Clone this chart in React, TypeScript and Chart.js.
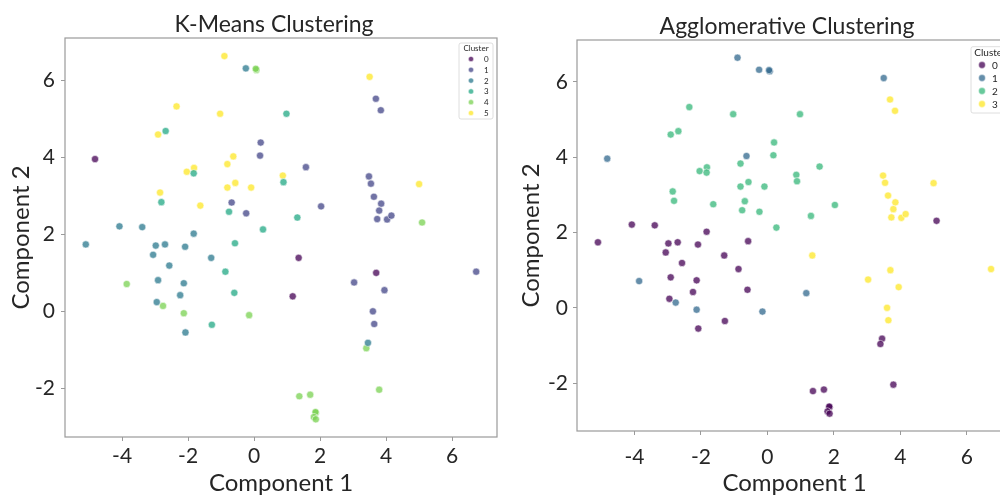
import React, { useEffect, useRef } from "react";
import { Chart, registerables } from "chart.js";
Chart.register(...registerables);

// ---- data (same 2-D embedding, two sets of cluster labels) ----
const compX = [
  -0.9, -0.25, 0.07, 0.05, 3.5, 3.69, 3.84, -2.35, -1.03, 0.98,
  -2.91, -2.68, 0.2, 0.18, -4.82, -0.63, -0.81, 1.57, -2.04, -1.82,
  -1.83, 3.48, 0.87, 0.89, 3.54, -0.57, -0.81, -0.09, 5.0, -2.85,
  3.63, -2.81, -0.68, -1.63, 2.03, 3.85, 3.79, -0.76, -0.24, 3.73,
  4.03, 4.16, 5.09, 1.31, 0.27, -4.08, -3.39, -1.83, -0.58, -5.1,
  -2.98, -2.7, -2.09, -3.06, -1.3, 1.35, -2.57, -0.87, 3.7, 6.73,
  -3.86, -2.91, -2.13, 3.03, 3.95, -2.24, -0.6, 1.17, -2.95, -2.76,
  -2.13, 3.6, -0.15, 3.64, -1.28, -2.08, 3.45, 3.4, 3.79, 1.37,
  1.7, 1.87, 1.86, 1.81, 1.87,
];
const compY = [
  6.64, 6.32, 6.28, 6.31, 6.1, 5.53, 5.23, 5.33, 5.14, 5.14,
  4.6, 4.69, 4.39, 4.05, 3.96, 4.03, 3.83, 3.75, 3.63, 3.73,
  3.59, 3.51, 3.53, 3.36, 3.32, 3.34, 3.22, 3.22, 3.31, 3.09,
  2.98, 2.84, 2.83, 2.75, 2.73, 2.8, 2.62, 2.59, 2.55, 2.4,
  2.39, 2.49, 2.31, 2.44, 2.13, 2.21, 2.19, 2.02, 1.77, 1.74,
  1.71, 1.74, 1.68, 1.47, 1.39, 1.39, 1.19, 1.03, 1.0, 1.03,
  0.71, 0.81, 0.73, 0.75, 0.55, 0.42, 0.48, 0.39, 0.24, 0.14,
  -0.05, 0.0, -0.1, -0.33, -0.35, -0.55, -0.82, -0.96, -2.04, -2.21,
  -2.17, -2.64, -2.62, -2.75, -2.81,
];
const kmeansLabels = [
  5, 2, 4, 4, 5, 1, 1, 5, 5, 3,
  5, 3, 1, 1, 0, 5, 5, 1, 5, 5,
  3, 1, 5, 3, 1, 5, 5, 5, 5, 5,
  1, 3, 1, 5, 1, 1, 1, 3, 1, 1,
  1, 1, 4, 3, 3, 2, 2, 2, 3, 2,
  2, 2, 2, 2, 2, 0, 2, 3, 0, 1,
  4, 2, 2, 1, 1, 2, 3, 0, 2, 4,
  4, 1, 4, 1, 3, 2, 2, 4, 4, 4,
  4, 4, 4, 4, 4,
];
const aggloLabels = [
  1, 1, 1, 1, 1, 3, 3, 2, 2, 2,
  2, 2, 2, 2, 1, 1, 2, 2, 2, 2,
  2, 3, 2, 2, 3, 2, 2, 2, 3, 2,
  3, 2, 2, 2, 2, 3, 3, 2, 2, 3,
  3, 3, 0, 2, 2, 0, 0, 0, 0, 0,
  0, 0, 0, 0, 0, 3, 0, 0, 3, 3,
  1, 0, 0, 3, 3, 0, 0, 1, 0, 1,
  1, 3, 1, 3, 0, 0, 0, 0, 0, 0,
  0, 0, 0, 0, 0,
];
const kmeansClusters = ["0", "1", "2", "3", "4", "5"];
const aggloClusters = ["0", "1", "2", "3"];
const kmeansColors = ["#440154", "#414487", "#2a788e", "#22a884", "#7ad151", "#fde725"];
const aggloColors = ["#440154", "#31688e", "#35b779", "#fde725"];
const xTickValues = [-4, -2, 0, 2, 4, 6];
const yTickValues = [-2, 0, 2, 4, 6];
const xLimits = [-5.73, 7.36];
const yLimits = [-3.27, 7.11];

const TEXT = "#262626";
const SPINE = "#9a9a9a";
const FONT = "Lato, 'Noto Sans', sans-serif";
const ALPHA = 0.75;

function hexA(hex: string, a: number) {
  const n = parseInt(hex.slice(1), 16);
  return `rgba(${(n >> 16) & 255},${(n >> 8) & 255},${n & 255},${a})`;
}

const frameBox = {
  id: "frameBox",
  afterDatasetsDraw(chart: any) {
    const { ctx, chartArea: a } = chart;
    ctx.save();
    ctx.strokeStyle = SPINE;
    ctx.lineWidth = 1.2;
    ctx.strokeRect(a.left, a.top, a.right - a.left, a.bottom - a.top);
    ctx.restore();
  },
};

const clusterLegend = {
  id: "clusterLegend",
  afterDraw(chart: any, _args: any, o: any) {
    const { ctx, chartArea: a } = chart;
    const right = a.right - o.inset;
    const left = right - o.width;
    const top = a.top + o.top;
    ctx.save();
    ctx.beginPath();
    (ctx as any).roundRect(left, top, o.width, o.height, 2);
    ctx.fillStyle = "rgba(255,255,255,0.8)";
    ctx.fill();
    ctx.strokeStyle = "#d6d6d6";
    ctx.lineWidth = 0.8;
    ctx.stroke();
    ctx.fillStyle = TEXT;
    ctx.font = `${o.fontSize}px ${FONT}`;
    ctx.textBaseline = "middle";
    ctx.textAlign = "center";
    ctx.fillText("Cluster", left + o.width / 2, top + o.titleDy);
    ctx.textAlign = "left";
    o.labels.forEach((lab: string, i: number) => {
      const y = top + o.firstDy + i * o.rowH;
      ctx.beginPath();
      ctx.arc(left + o.markerDx, y, o.r, 0, Math.PI * 2);
      ctx.fillStyle = hexA(o.colors[i], ALPHA);
      ctx.fill();
      ctx.strokeStyle = "rgba(255,255,255,0.9)";
      ctx.lineWidth = 0.5;
      ctx.stroke();
      ctx.fillStyle = TEXT;
      ctx.fillText(lab, left + o.labelDx, y + 0.5);
    });
    ctx.restore();
  },
};

type Cfg = {
  title: string;
  labels: number[];
  clusters: string[];
  colors: string[];
  width: number;
  rightGap: number;
  titlePadTop: number;
  titlePadBottom: number;
  yWidth: number;
  xHeight: number;
  xTickPad: number;
  yTickPad: number;
  yTitlePad: number;
  legend: any;
};

function buildConfig(c: Cfg): any {
  const datasets = c.clusters.map((name, k) => ({
    label: name,
    data: compX
      .map((x, i) => ({ x, y: compY[i], k: c.labels[i] }))
      .filter((p) => p.k === k)
      .map((p) => ({ x: p.x, y: p.y })),
    backgroundColor: hexA(c.colors[k], ALPHA),
    borderColor: "rgba(255,255,255,0.9)",
    borderWidth: 0.6,
    pointRadius: 3.6,
  }));
  return {
    type: "scatter",
    data: { datasets },
    options: {
      responsive: false,
      animation: false,
      devicePixelRatio: 1,
      layout: { padding: 0 },
      plugins: {
        legend: { display: false },
        tooltip: { enabled: false },
        title: {
          display: true,
          text: c.title,
          color: TEXT,
          font: { family: FONT, size: 23, weight: "normal", lineHeight: 1.1 },
          padding: { top: c.titlePadTop, bottom: c.titlePadBottom },
        },
        clusterLegend: { ...c.legend, labels: c.clusters, colors: c.colors },
      },
      scales: {
        x: {
          type: "linear",
          min: xLimits[0],
          max: xLimits[1],
          afterBuildTicks: (s: any) => {
            s.ticks = xTickValues.map((v) => ({ value: v }));
          },
          afterFit: (s: any) => {
            s.height = c.xHeight;
          },
          grid: { display: true, drawOnChartArea: false, drawTicks: true, tickLength: 4, color: SPINE, lineWidth: 1 },
          border: { display: false },
          ticks: {
            color: TEXT,
            padding: c.xTickPad,
            font: { family: FONT, size: 21 },
            maxRotation: 0,
            callback: (v: any) => String(v),
          },
          title: {
            display: true,
            text: "Component 1",
            color: TEXT,
            font: { family: FONT, size: 24, lineHeight: 1 },
            padding: { top: 0, bottom: 1 },
          },
        },
        y: {
          type: "linear",
          min: yLimits[0],
          max: yLimits[1],
          afterBuildTicks: (s: any) => {
            s.ticks = yTickValues.map((v) => ({ value: v }));
          },
          afterFit: (s: any) => {
            s.width = c.yWidth;
          },
          grid: { display: true, drawOnChartArea: false, drawTicks: true, tickLength: 4, color: SPINE, lineWidth: 1 },
          border: { display: false },
          ticks: {
            color: TEXT,
            padding: c.yTickPad,
            font: { family: FONT, size: 21 },
            callback: (v: any) => String(v),
          },
          title: {
            display: true,
            text: "Component 2",
            color: TEXT,
            font: { family: FONT, size: 24, lineHeight: 1 },
            padding: { top: c.yTitlePad, bottom: 0 },
          },
        },
        // empty right-hand spacer so the title centres like the reference
        spacer: {
          type: "linear",
          position: "right",
          display: true,
          min: 0,
          max: 1,
          afterFit: (s: any) => {
            s.width = c.rightGap;
          },
          grid: { display: false, drawTicks: false },
          border: { display: false },
          ticks: { display: false },
          title: { display: false },
        },
      },
    },
    plugins: [frameBox, clusterLegend],
  };
}

function ScatterPanel({ cfg, left }: { cfg: Cfg; left: number }) {
  const ref = useRef<HTMLCanvasElement | null>(null);
  useEffect(() => {
    if (!ref.current) return;
    const chart = new Chart(ref.current, buildConfig(cfg));
    return () => chart.destroy();
  }, []);
  return (
    <div style={{ position: "absolute", left, top: 0, width: cfg.width, height: 496 }}>
      <canvas ref={ref} width={cfg.width} height={496} style={{ display: "block" }} />
    </div>
  );
}

const kmeansCfg: Cfg = {
  title: "K-Means Clustering",
  labels: kmeansLabels,
  clusters: kmeansClusters,
  colors: kmeansColors,
  width: 548,
  rightGap: 51,
  titlePadTop: 12.2,
  titlePadBottom: 0.5,
  yWidth: 65,
  xHeight: 59,
  xTickPad: 3,
  yTickPad: 6,
  yTitlePad: 9.5,
  legend: { inset: 4, width: 34, top: 5, height: 76, fontSize: 8, titleDy: 5.5, firstDy: 16, rowH: 10.8, markerDx: 12, labelDx: 25, r: 2.6 },
};

const aggloCfg: Cfg = {
  title: "Agglomerative Clustering",
  labels: aggloLabels,
  clusters: aggloClusters,
  colors: aggloColors,
  width: 574,
  rightGap: 62,
  titlePadTop: 13.5,
  titlePadBottom: 1.2,
  yWidth: 77,
  xHeight: 65,
  xTickPad: 10,
  yTickPad: 5,
  yTitlePad: 19.5,
  legend: { inset: 3, width: 38, top: 6.7, height: 66.3, fontSize: 10, titleDy: 6, firstDy: 18.3, rowH: 13, markerDx: 11, labelDx: 21, r: 3.4 },
};

export default function App() {
  return (
    <div
      style={{
        position: "absolute",
        left: 0,
        top: 0,
        width: 1000,
        height: 496,
        overflow: "hidden",
        background: "#ffffff",
      }}
    >
      <ScatterPanel cfg={kmeansCfg} left={0} />
      <ScatterPanel cfg={aggloCfg} left={500} />
    </div>
  );
}
